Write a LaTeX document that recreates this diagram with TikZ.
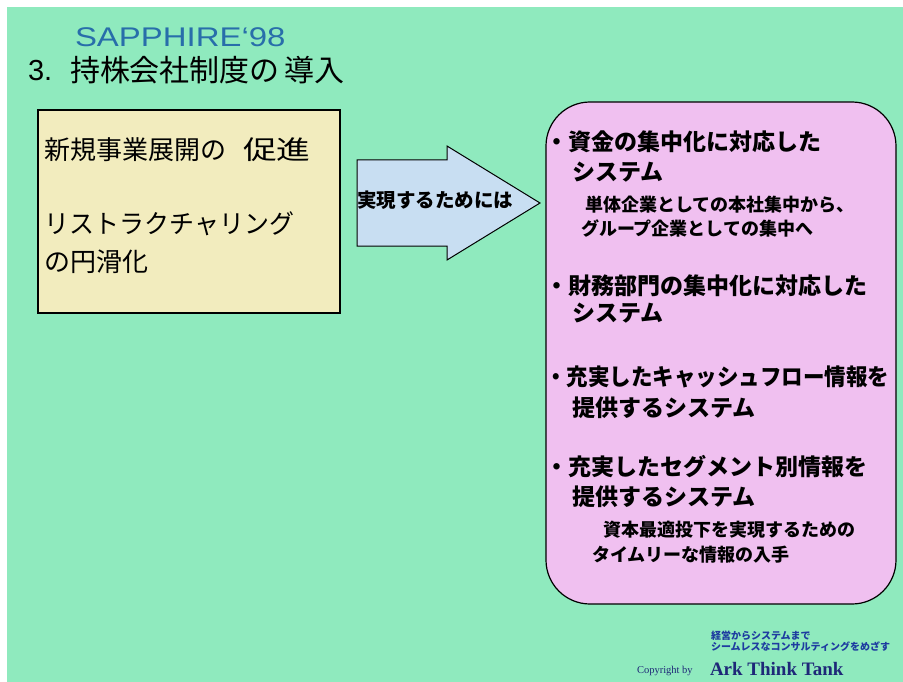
\documentclass[tikz,border=0pt]{standalone}
\usepackage{fontspec}
\setmainfont{Liberation Sans}
\newfontfamily\jp{Noto Sans CJK JP}
\newfontfamily\arkserif{Liberation Serif}
\definecolor{bggreen}{RGB}{143,234,190}
\definecolor{boxyellow}{RGB}{242,236,190}
\definecolor{arrowblue}{RGB}{200,222,242}
\definecolor{boxpink}{RGB}{240,192,240}
\definecolor{titleblue}{RGB}{40,110,170}
\definecolor{footblue}{RGB}{30,60,160}
\definecolor{arkblue}{RGB}{30,40,120}
\tikzset{
  txt/.style={anchor=west, inner sep=0pt, outer sep=0pt, text=black},
  big/.style={txt, font=\jp\fontsize{26}{30}\selectfont},
  main/.style={txt, font=\jp\bfseries\fontsize{23}{27}\selectfont},
  sub/.style={txt, font=\jp\bfseries\fontsize{18}{21}\selectfont},
  foot/.style={txt, font=\jp\bfseries\fontsize{10}{12}\selectfont, text=footblue},
}
\begin{document}
\begin{tikzpicture}[x=1pt,y=-1pt]
\useasboundingbox (0,0) rectangle (903,682);
\fill[white] (0,0) rectangle (903,682);
\fill[bggreen] (7,7) rectangle (903,682);
% title
\node[txt, font=\fontsize{27}{32}\selectfont, text=titleblue, xscale=1.22, transform shape] (sap) at (75,37) {SAPPHIRE‘98};
\node[txt, font=\fontsize{29}{32}\selectfont] (num) at (28,71) {3.};
\node[txt, font=\jp\fontsize{30}{32}\selectfont] (title) at (70,70) {持株会社制度の\hspace{5pt}導入};
% left box
\draw[line width=1.2pt, fill=boxyellow] (38,110) rectangle (340,313);
\node[big] (l1) at (45,150) {新規事業展開の};
\node[big, xscale=1.3, transform shape] (l1b) at (243,150) {促進};
\node[big, xscale=0.96, transform shape] (l2) at (45,224) {リストラクチャリング};
\node[big] (l3) at (45,262) {の円滑化};
% arrow
\draw[line width=1pt, fill=arrowblue, line join=miter]
  (357,160) -- (447,160) -- (447,146) -- (540,203) -- (447,260) -- (447,246) -- (357,246) -- cycle;
\node[txt, font=\jp\bfseries\fontsize{19.5}{22}\selectfont] (arr) at (357,200) {実現するためには};
% right box
\draw[line width=1.2pt, fill=boxpink, rounded corners=44pt] (546,102) rectangle (896,604);
\node[main] (r1) at (545,142) {・資金の集中化に対応した};
\node[main] (r2) at (572,172) {システム};
\node[sub] (r3) at (585,205) {単体企業としての本社集中から、};
\node[sub] (r4) at (581,228) {グループ企業としての集中へ};
\node[main] (r5) at (545,286) {・財務部門の集中化に対応した};
\node[main] (r6) at (572,313) {システム};
\node[main, xscale=0.935, transform shape] (r7) at (545,377) {・充実したキャッシュフロー情報を};
\node[main] (r8) at (572,408) {提供するシステム};
\node[main] (r9) at (545,467) {・充実したセグメント別情報を};
\node[main] (r10) at (572,497) {提供するシステム};
\node[sub] (r11) at (603,530) {資本最適投下を実現するための};
\node[sub] (r12) at (592,555) {タイムリーな情報の入手};
% footer
\node[foot] (f1) at (711,636) {経営からシステムまで};
\node[foot] (f2) at (711,647) {シームレスなコンサルティングをめざす};
\node[txt, font=\arkserif\fontsize{10.5}{11}\selectfont, text=arkblue] (copy) at (637,671) {Copyright by};
\node[txt, font=\arkserif\bfseries\fontsize{19}{22}\selectfont, text=arkblue] (ark) at (710,669) {Ark\ Think\ Tank};
\end{tikzpicture}
\end{document}
